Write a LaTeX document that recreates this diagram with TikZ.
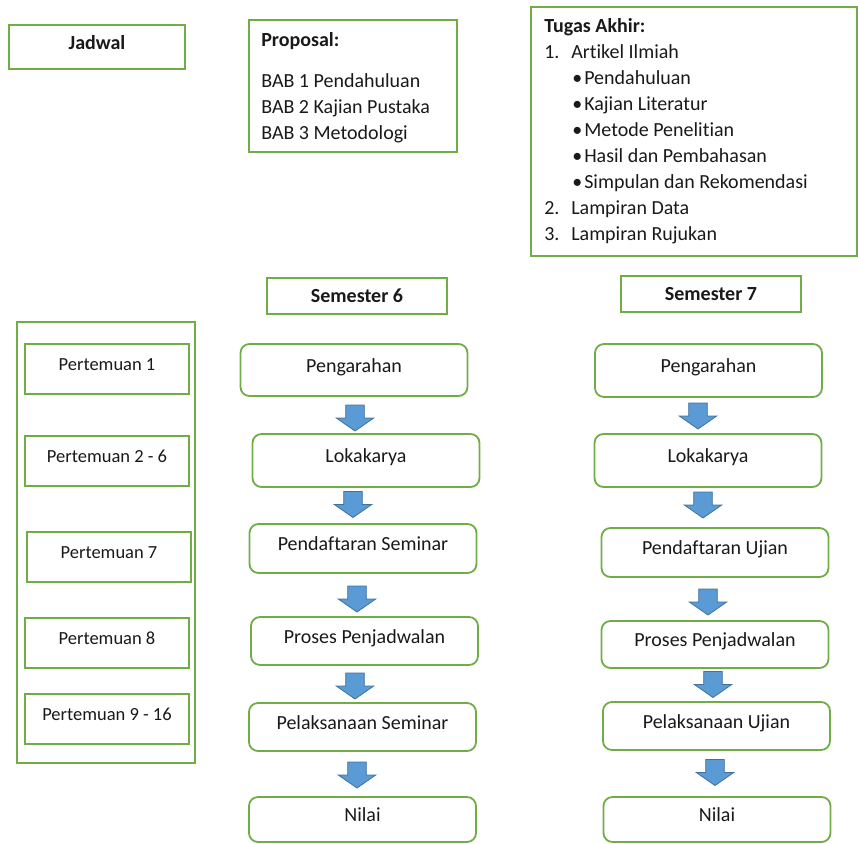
\documentclass[tikz,border=0pt]{standalone}
\usepackage{fontspec}
\setmainfont{Carlito}[Ligatures={NoCommon,NoContextual}]

\definecolor{boxgreen}{HTML}{70AD47}
\definecolor{arrowblue}{HTML}{5B9BD5}
\definecolor{arrowedge}{HTML}{41719C}

\begin{document}
\fontsize{20}{26}\selectfont
\begin{tikzpicture}[x=1pt,y=-1pt,every node/.style={text=black!90}]
  \tikzstyle{frame}=[draw=boxgreen,line width=1.8pt,rectangle,inner sep=0pt]
  \tikzstyle{stepbox}=[frame,rounded corners=9pt,minimum width=227pt,minimum height=50pt,text height=13pt,text depth=9pt]
  \tikzstyle{meetbox}=[frame,minimum width=164pt,minimum height=50pt,font=\fontsize{18.5}{22}\selectfont,text height=12pt,text depth=9pt]
  \tikzstyle{headbox}=[frame,minimum width=180pt,minimum height=36pt,font=\bfseries]
  \tikzstyle{blockarrow}=[fill=arrowblue,draw=arrowedge,line width=0.8pt]
  \tikzset{downarrow/.pic={\draw[blockarrow] (-9.3,-13) -- (9.3,-13) -- (9.3,0) -- (18.7,0) -- (0,13) -- (-18.7,0) -- (-9.3,0) -- cycle;}}
  \useasboundingbox (0,0) rectangle (858,843);

  % top row
  \node[frame,minimum width=176pt,minimum height=44pt,font=\bfseries,text height=13pt,text depth=9pt] (J_0) at (97,47) {Jadwal};

  \node[frame,minimum width=208pt,minimum height=132pt] (PR) at (353,86) {};
  \node[anchor=north west,inner sep=0pt,align=left] (PR_text) at ([shift={(13,13)}]PR.north west)
    {\textbf{Proposal:}\\[15pt] BAB 1 Pendahuluan\\ BAB 2 Kajian Pustaka\\ BAB 3 Metodologi};

  \node[frame,minimum width=326pt,minimum height=249pt] (TA) at (694,131.5) {};
  \node[anchor=north west,inner sep=0pt,align=left] (TA_text) at ([shift={(14,12)}]TA.north west)
    {\textbf{Tugas Akhir:}\\
     \makebox[27pt][l]{1.}Artikel Ilmiah\\
     \hspace*{28pt}\makebox[12pt][l]{\textbullet}Pendahuluan\\
     \hspace*{28pt}\makebox[12pt][l]{\textbullet}Kajian Literatur\\
     \hspace*{28pt}\makebox[12pt][l]{\textbullet}Metode Penelitian\\
     \hspace*{28pt}\makebox[12pt][l]{\textbullet}Hasil dan Pembahasan\\
     \hspace*{28pt}\makebox[12pt][l]{\textbullet}Simpulan dan Rekomendasi\\
     \makebox[27pt][l]{2.}Lampiran Data\\
     \makebox[27pt][l]{3.}Lampiran Rujukan};

  % semester headers
  \node[headbox] (S6_0) at (357,296) {Semester 6};
  \node[headbox] (S7_0) at (711,294) {Semester 7};

  % jadwal column
  \node[frame,minimum width=178pt,minimum height=441pt] (PT) at (106,542.5) {};
  \node[meetbox] (PT_1) at (107,369) {Pertemuan 1};
  \node[meetbox] (PT_2) at (107,461) {Pertemuan 2 - 6};
  \node[meetbox] (PT_3) at (109,557) {Pertemuan 7};
  \node[meetbox] (PT_4) at (107,643) {Pertemuan 8};
  \node[meetbox] (PT_5) at (107,719) {Pertemuan 9 - 16};

  % semester 6
  \node[stepbox,minimum height=52pt] (S6_1) at (354,370) {Pengarahan};
  \node[stepbox,minimum height=53pt] (S6_2) at (366,460.5) {Lokakarya};
  \node[stepbox,minimum height=49pt] (S6_3) at (363,548.5) {Pendaftaran Seminar};
  \node[stepbox,minimum height=48pt] (S6_4) at (364.5,641) {Proses Penjadwalan};
  \node[stepbox,minimum height=48pt] (S6_5) at (362.5,727) {Pelaksanaan Seminar};
  \node[stepbox,minimum height=45pt] (S6_6) at (362.5,819.5) {Nilai};

  \pic at (355,418) {downarrow};
  \pic at (353,504.5) {downarrow};
  \pic at (357,599) {downarrow};
  \pic at (355,686) {downarrow};
  \pic at (357,775) {downarrow};

  % semester 7
  \node[stepbox,minimum height=53pt] (S7_1) at (708.5,370.5) {Pengarahan};
  \node[stepbox,minimum height=53pt] (S7_2) at (708,460.5) {Lokakarya};
  \node[stepbox,minimum height=49pt] (S7_3) at (715,552.5) {Pendaftaran Ujian};
  \node[stepbox,minimum height=47pt] (S7_4) at (715,644.5) {Proses Penjadwalan};
  \node[stepbox,minimum height=48pt] (S7_5) at (716.5,726) {Pelaksanaan Ujian};
  \node[stepbox,minimum height=45pt] (S7_6) at (717,819.5) {Nilai};

  \pic at (698,416) {downarrow};
  \pic at (703,505) {downarrow};
  \pic at (708,602) {downarrow};
  \pic at (713,684.5) {downarrow};
  \pic at (715,772.5) {downarrow};
\end{tikzpicture}
\end{document}
